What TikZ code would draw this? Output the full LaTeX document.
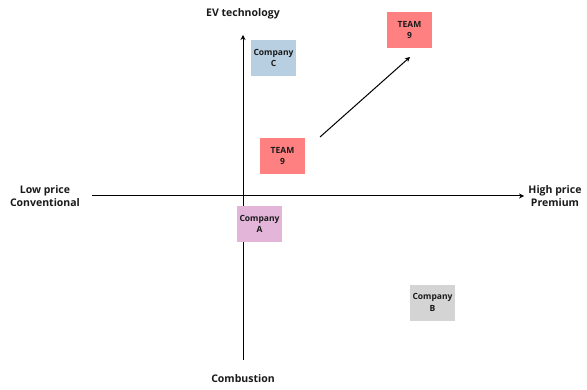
\documentclass[tikz,border=0pt]{standalone}
\usepackage{fontspec}
\setmainfont{Open Sans}
\usetikzlibrary{arrows.meta}
\definecolor{teamred}{HTML}{FF8080}
\definecolor{compblue}{HTML}{B8CFE1}
\definecolor{comppink}{HTML}{E3B6D9}
\definecolor{compgray}{HTML}{D4D4D4}
\definecolor{inkdark}{HTML}{1A1A1A}
\tikzset{
  box/.style={minimum width=45pt, minimum height=36pt, inner sep=0pt, align=center,
    font=\fontsize{8.5}{11.5}\selectfont\bfseries, text=inkdark},
  axislabel/.style={align=center, font=\fontsize{10.5}{13}\selectfont\bfseries, text=inkdark},
  axis/.style={line width=1pt, -{Stealth[length=5pt,width=5pt]}},
}
\begin{document}
\begin{tikzpicture}[x=1pt,y=1pt]
\useasboundingbox (0,0) rectangle (587,389);
\fill[white] (0,0) rectangle (587,389);
% axes
\coordinate (xl) at (92,193);
\coordinate (xr) at (524,193);
\coordinate (yb) at (243,29);
\coordinate (yt) at (243,354);
\draw[axis] (xl) -- (xr);
\draw[axis] (yb) -- (yt);
% axis labels
\node[axislabel] (ev) at (243,375) {EV technology};
\node[axislabel] (comb) at (243,10) {Combustion};
\node[axislabel] (low) at (45,193) {Low price\\Conventional};
\node[axislabel] (high) at (555,193) {High price\\Premium};
% boxes
\node[box, fill=compblue] (cc) at (273.5,331) {Company\\C};
\node[box, fill=teamred] (t9a) at (409.5,359) {TEAM\\9};
\node[box, fill=teamred] (t9b) at (282.5,233) {TEAM\\9};
\node[box, fill=comppink] (ca) at (259.5,165) {Company\\A};
\node[box, fill=compgray] (cb) at (432.5,86.5) {Company\\B};
% movement arrow
\coordinate (mvs) at (320,252);
\coordinate (mve) at (410,332);
\draw[axis] (mvs) -- (mve);
\end{tikzpicture}
\end{document}
